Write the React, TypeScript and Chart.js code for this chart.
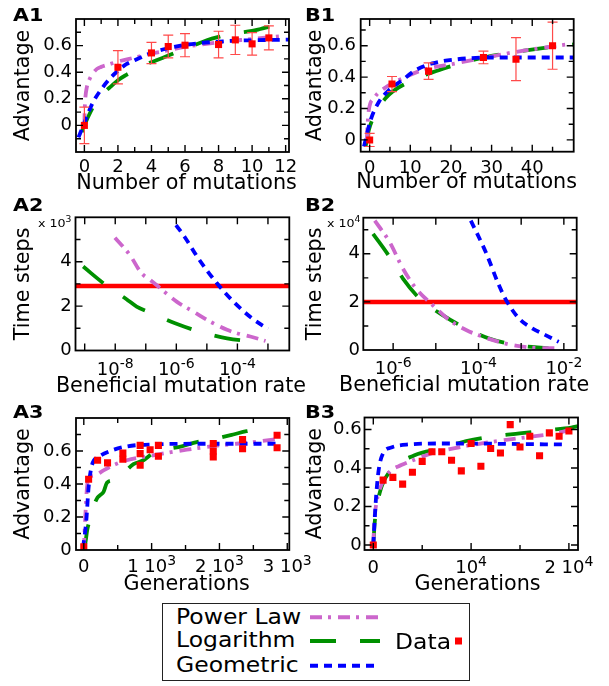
import React, { useEffect, useRef } from 'react';
import { Chart, registerables } from 'chart.js';

Chart.register(...registerables);

const FONT = 'DejaVu Sans';
const MAGENTA = '#cc66cc';
const GREEN = '#009000';
const BLUE = '#0000ff';
const RED = '#ff0000';
const DASH_POWER = [12, 6, 3, 7];
const DASH_LOG = [26, 24];
const DASH_GEO = [8, 6];

// ---------- A1 ----------
const a1Mutations = [0, 2, 4, 5, 6, 8, 9, 10, 11];
const a1Advantage = [0.0, 0.437, 0.545, 0.593, 0.603, 0.608, 0.643, 0.613, 0.658];
const a1Error = [0.137, 0.125, 0.08, 0.086, 0.087, 0.1, 0.11, 0.085, 0.09];
const a1GeoX = [-0.35, 0, 0.5, 1, 1.5, 2, 2.5, 3, 4, 5, 6, 7, 8, 9, 10, 12.2];
const a1GeoY = [-0.09, 0.02, 0.17, 0.27, 0.35, 0.41, 0.46, 0.49, 0.545, 0.58, 0.605, 0.62, 0.63, 0.637, 0.64, 0.645];
const a1PowX = [0, 0.02, 0.06, 0.15, 0.3, 0.5, 0.75, 1, 1.5, 2, 3, 4, 5, 6, 8, 10, 12];
const a1PowY = [0.0, 0.12, 0.21, 0.29, 0.345, 0.39, 0.425, 0.44, 0.46, 0.48, 0.51, 0.54, 0.565, 0.59, 0.625, 0.65, 0.675];
const a1LogX = [-0.15, 0, 0.4, 0.75, 1.2, 1.55, 2, 2.5, 2.94, 3.5, 4.3, 5, 5.7, 6.5, 7.3, 8, 8.9, 10, 10.5, 11.3, 12.1];
const a1LogY = [-0.05, 0.0, 0.11, 0.19, 0.25, 0.29, 0.34, 0.38, 0.41, 0.45, 0.49, 0.525, 0.56, 0.6, 0.64, 0.665, 0.69, 0.71, 0.725, 0.75, 0.77];

// ---------- B1 ----------
const b1Mutations = [0, 5.5, 14.5, 28, 36, 45];
const b1Advantage = [0.0, 0.356, 0.438, 0.525, 0.514, 0.6];
const b1Error = [0.042, 0.048, 0.053, 0.04, 0.137, 0.15];
const b1GeoX = [-1.4, 0.25, 2.3, 4.75, 8, 11.3, 15.4, 21.1, 29.3, 40, 50.2];
const b1GeoY = [-0.042, 0.127, 0.243, 0.317, 0.38, 0.444, 0.487, 0.512, 0.525, 0.525, 0.525];
const b1PowX = [-0.7, -0.5, -0.2, 1.05, 3.9, 8, 12.9, 21.1, 29.3, 37.5, 48.6];
const b1PowY = [0.0, 0.1, 0.19, 0.265, 0.334, 0.39, 0.444, 0.487, 0.529, 0.567, 0.608];
const b1LogX = [-1, -0.2, 0.65, 3.9, 9.7, 17, 25.2, 33.4, 41.6, 50.2];
const b1LogY = [-0.042, 0.063, 0.127, 0.265, 0.37, 0.444, 0.508, 0.55, 0.582, 0.608];

// ---------- A2 (log10 of beneficial mutation rate, time steps x 10^3) ----------
const a2GeoExp = [-6.01, -5.71, -5.28, -4.67, -4.13, -3.52, -3.0];
const a2GeoY = [5.65, 5.08, 4.15, 3.03, 2.2, 1.45, 0.97];
const a2PowExp = [-8.01, -7.52, -7.14, -6.86, -6.59, -5.99, -5.44, -4.89, -4.34, -4.02, -3.58, -3.08];
const a2PowY = [5.08, 4.3, 3.48, 3.18, 2.88, 2.2, 1.75, 1.3, 0.93, 0.78, 0.63, 0.43];
const a2LogExp = [-9.05, -8.31, -7.63, -7.3, -6.81, -6.04, -5.17, -4.34, -3.47];
const a2LogY = [3.78, 2.95, 2.31, 1.98, 1.68, 1.23, 0.82, 0.55, 0.4];
const a2DataLevel = 2.9;

// ---------- B2 (time steps x 10^4) ----------
const b2GeoExp = [-4.18, -3.83, -3.52, -3.33, -3.05, -2.74, -2.43, -2.12];
const b2GeoY = [5.38, 4.07, 2.69, 2.0, 1.31, 0.9, 0.62, 0.34];
const b2PowExp = [-6.43, -6.08, -5.77, -5.46, -5.07, -4.68, -4.29, -3.9, -3.52, -3.13, -2.74, -2.16];
const b2PowY = [5.38, 4.48, 3.38, 2.55, 1.86, 1.24, 0.83, 0.55, 0.34, 0.18, 0.1, 0.07];
const b2LogExp = [-6.47, -6.08, -5.77, -5.34, -4.84, -4.37, -3.75, -3.13, -2.36];
const b2LogY = [4.83, 3.86, 2.97, 2.07, 1.45, 0.97, 0.48, 0.21, 0.07];
const b2DataLevel = 2.0;

// ---------- A3 ----------
const a3Generations = [0, 71, 203, 350, 576, 576, 831, 831, 831, 978, 1100, 1100, 1909, 1909, 1909, 2341, 2341, 2850, 2850];
const a3Advantage = [0.02, 0.429, 0.544, 0.528, 0.588, 0.55, 0.634, 0.584, 0.514, 0.608, 0.634, 0.568, 0.645, 0.6, 0.564, 0.669, 0.614, 0.695, 0.62];
const a3GeoX = [-12, 37, 71, 120, 218, 390, 635, 1026, 1762, 2865];
const a3GeoY = [0.01, 0.18, 0.38, 0.514, 0.564, 0.6, 0.628, 0.64, 0.644, 0.644];
const a3PowX = [0, 22, 47, 71, 169, 291, 438, 635, 1026, 1518, 2007, 2497, 2890];
const a3PowY = [0.0, 0.2, 0.38, 0.433, 0.453, 0.483, 0.514, 0.544, 0.574, 0.608, 0.634, 0.654, 0.675];
const a3LogX = [0, 22, 50, 85, 140, 203, 250, 291, 341, 420, 488, 600, 732, 879, 1026, 1200, 1444, 1665, 1835, 2000, 2203, 2400, 2620];
const a3LogY = [0.0, 0.04, 0.12, 0.18, 0.26, 0.318, 0.335, 0.352, 0.407, 0.42, 0.423, 0.47, 0.52, 0.544, 0.588, 0.61, 0.628, 0.654, 0.665, 0.68, 0.7, 0.72, 0.731];

// ---------- B3 ----------
const b3Generations = [0, 1000, 2000, 3000, 4000, 5000, 6000, 7000, 8000, 9000, 10000, 11000, 12000, 13000, 14000, 15000, 16000, 17000, 18000, 19000, 20000];
const b3Advantage = [0.0, 0.337, 0.351, 0.316, 0.378, 0.434, 0.484, 0.484, 0.44, 0.385, 0.527, 0.409, 0.501, 0.478, 0.625, 0.509, 0.565, 0.463, 0.582, 0.565, 0.592];
const b3GeoX = [0, 140, 310, 550, 990, 1840, 3550, 6950, 19550];
const b3GeoY = [0.0, 0.13, 0.268, 0.389, 0.475, 0.506, 0.522, 0.527, 0.522];
const b3PowX = [0, 100, 310, 820, 1670, 2860, 4060, 5930, 8650, 12060, 15460, 18870, 20240];
const b3PowY = [0.0, 0.12, 0.216, 0.311, 0.38, 0.415, 0.44, 0.475, 0.506, 0.535, 0.558, 0.582, 0.6];
const b3LogX = [0, 150, 640, 1670, 4220, 6950, 9500, 12400, 14950, 17850, 20240, 20920];
const b3LogY = [0.0, 0.12, 0.268, 0.38, 0.466, 0.501, 0.54, 0.565, 0.579, 0.596, 0.61, 0.617];

// ---------- tick labels ([text, superscript]) ----------
const advTickVals = [0, 0.2, 0.4, 0.6];
const advTickLabels = ['0', '0.2', '0.4', '0.6'];
const a1XTicks = [0, 2, 4, 6, 8, 10, 12];
const a1XLabels = [['0', ''], ['2', ''], ['4', ''], ['6', ''], ['8', ''], ['10', ''], ['12', '']];
const b1XTicks = [0, 10, 20, 30, 40];
const b1XLabels = [['0', ''], ['10', ''], ['20', ''], ['30', ''], ['40', '']];
const a2XTicks = [1e-8, 1e-6, 1e-4];
const a2XLabels = [['10', '-8'], ['10', '-6'], ['10', '-4']];
const b2XTicks = [1e-6, 1e-4, 1e-2];
const b2XLabels = [['10', '-6'], ['10', '-4'], ['10', '-2']];
const stepTickVals = [0, 2, 4];
const stepTickLabels = ['0', '2', '4'];
const a3XTicks = [0, 1000, 2000, 3000];
const a3XLabels = [['0', ''], ['1 10', '3'], ['2 10', '3'], ['3 10', '3']];
const b3XTicks = [0, 10000, 20000];
const b3XLabels = [['0', ''], ['10', '4'], ['2 10', '4']];

const pts = (xs: number[], ys: number[]) => xs.map((x, i) => ({ x, y: ys[i] }));
const expPts = (es: number[], ys: number[]) => es.map((e, i) => ({ x: Math.pow(10, e), y: ys[i] }));

const curve = (data: any[], color: string, dash: number[], order: number) => ({
  data,
  showLine: true,
  borderColor: color,
  backgroundColor: color,
  borderWidth: 3.8,
  borderDash: dash,
  borderCapStyle: 'butt',
  pointRadius: 0,
  tension: 0.4,
  cubicInterpolationMode: 'monotone',
  fill: false,
  order,
});

const dataPts = (data: any[]) => ({
  data,
  showLine: false,
  pointStyle: 'rect',
  pointRadius: 5,
  pointBackgroundColor: RED,
  pointBorderColor: RED,
  pointBorderWidth: 0,
  order: 0,
});

const level = (xMin: number, xMax: number, v: number) => ({
  data: [{ x: xMin, y: v }, { x: xMax, y: v }],
  showLine: true,
  borderColor: RED,
  borderWidth: 4.5,
  pointRadius: 0,
  order: 4,
});

type Spec = {
  box: [number, number, number, number];
  area: { l: number; t: number; r: number; b: number };
  xType: string;
  xMin: number; xMax: number; yMin: number; yMax: number;
  xTicks: number[]; xLabels: string[][]; xLabelBase: number;
  yTicks: number[]; yLabels: string[];
  xMajor: number[]; xMinor: number[]; yMajor: number[]; yMinor: number[];
  xTitle: string; yTitle: string;
  xTitleX: number; xTitleBase: number;
  yTickPad: number; yTitlePad: number;
  datasets: any[];
  errors?: number[];
};

const A1: Spec = {
  box: [0, 0, 320, 200], area: { l: 76, t: 19, r: 289, b: 152 },
  xType: 'linear', xMin: -0.5, xMax: 12.2, yMin: -0.2, yMax: 0.8,
  xTicks: a1XTicks, xLabels: a1XLabels, xLabelBase: 171.7, yTicks: advTickVals, yLabels: advTickLabels,
  xMajor: [0, 2, 4, 6, 8, 10, 12], xMinor: [1, 3, 5, 7, 9, 11], yMajor: [0, 0.2, 0.4, 0.6], yMinor: [-0.1, 0.1, 0.3, 0.5, 0.7],
  xTitle: 'Number of mutations', yTitle: 'Advantage',
  xTitleX: 186.5, xTitleBase: 189.5,
  yTickPad: 4, yTitlePad: 11.6,
  datasets: [
    dataPts(pts(a1Mutations, a1Advantage)),
    curve(pts(a1GeoX, a1GeoY), BLUE, DASH_GEO, 1),
    curve(pts(a1PowX, a1PowY), MAGENTA, DASH_POWER, 2),
    curve(pts(a1LogX, a1LogY), GREEN, DASH_LOG, 3),
  ],
  errors: a1Error,
};

const B1: Spec = {
  box: [300, 0, 309, 200], area: { l: 360.7, t: 19, r: 573.7, b: 151.7 },
  xType: 'linear', xMin: -2.2, xMax: 50.2, yMin: -0.075, yMax: 0.77,
  xTicks: b1XTicks, xLabels: b1XLabels, xLabelBase: 172.5, yTicks: advTickVals, yLabels: advTickLabels,
  xMajor: [0, 10, 20, 30, 40], xMinor: [5, 15, 25, 35, 45], yMajor: [0, 0.2, 0.4, 0.6], yMinor: [0.1, 0.3, 0.5, 0.7],
  xTitle: 'Number of mutations', yTitle: 'Advantage',
  xTitleX: 466.7, xTitleBase: 188.8,
  yTickPad: 4.7, yTitlePad: 3.6,
  datasets: [
    dataPts(pts(b1Mutations, b1Advantage)),
    curve(pts(b1GeoX, b1GeoY), BLUE, DASH_GEO, 1),
    curve(pts(b1PowX, b1PowY), MAGENTA, DASH_POWER, 2),
    curve(pts(b1LogX, b1LogY), GREEN, DASH_LOG, 3),
  ],
  errors: b1Error,
};

const A2: Spec = {
  box: [0, 200, 320, 200], area: { l: 75.5, t: 217.3, r: 289.3, b: 350.5 },
  xType: 'logarithmic', xMin: 5e-10, xMax: 5e-3, yMin: 0, yMax: 6,
  xTicks: a2XTicks, xLabels: a2XLabels, xLabelBase: 375, yTicks: stepTickVals, yLabels: stepTickLabels,
  xMajor: [1e-9, 1e-8, 1e-7, 1e-6, 1e-5, 1e-4, 1e-3], xMinor: [], yMajor: [2, 4], yMinor: [1, 3, 5],
  xTitle: 'Beneficial mutation rate', yTitle: 'Time steps',
  xTitleX: 181, xTitleBase: 392.5,
  yTickPad: 3.8, yTitlePad: 11.6,
  datasets: [
    level(5e-10, 5e-3, a2DataLevel),
    curve(expPts(a2GeoExp, a2GeoY), BLUE, DASH_GEO, 1),
    curve(expPts(a2PowExp, a2PowY), MAGENTA, DASH_POWER, 2),
    curve(expPts(a2LogExp, a2LogY), GREEN, DASH_LOG, 3),
  ],
};

const B2: Spec = {
  box: [300, 200, 309, 200], area: { l: 363.3, t: 217.7, r: 576.7, b: 350 },
  xType: 'logarithmic', xMin: 2e-7, xMax: 2e-2, yMin: 0, yMax: 5.5,
  xTicks: b2XTicks, xLabels: b2XLabels, xLabelBase: 373.5, yTicks: stepTickVals, yLabels: stepTickLabels,
  xMajor: [1e-6, 1e-5, 1e-4, 1e-3, 1e-2], xMinor: [], yMajor: [2, 4], yMinor: [1, 3, 5],
  xTitle: 'Beneficial mutation rate', yTitle: 'Time steps',
  xTitleX: 464.2, xTitleBase: 392,
  yTickPad: 3.3, yTitlePad: 3.6,
  datasets: [
    level(2e-7, 2e-2, b2DataLevel),
    curve(expPts(b2GeoExp, b2GeoY), BLUE, DASH_GEO, 1),
    curve(expPts(b2PowExp, b2PowY), MAGENTA, DASH_POWER, 2),
    curve(expPts(b2LogExp, b2LogY), GREEN, DASH_LOG, 3),
  ],
};

const A3: Spec = {
  box: [0, 400, 320, 200], area: { l: 76, t: 418, r: 289.3, b: 550 },
  xType: 'linear', xMin: -115, xMax: 3030, yMin: 0, yMax: 0.8,
  xTicks: a3XTicks, xLabels: a3XLabels, xLabelBase: 571.7, yTicks: advTickVals, yLabels: advTickLabels,
  xMajor: [0, 1000, 2000, 3000], xMinor: [500, 1500, 2500], yMajor: [0.2, 0.4, 0.6], yMinor: [0.1, 0.3, 0.5, 0.7],
  xTitle: 'Generations', yTitle: 'Advantage',
  xTitleX: 186.7, xTitleBase: 591,
  yTickPad: 4.3, yTitlePad: 11.6,
  datasets: [
    dataPts(pts(a3Generations, a3Advantage)),
    curve(pts(a3GeoX, a3GeoY), BLUE, DASH_GEO, 1),
    curve(pts(a3PowX, a3PowY), MAGENTA, DASH_POWER, 2),
    curve(pts(a3LogX, a3LogY), GREEN, DASH_LOG, 3),
  ],
};

const B3: Spec = {
  box: [300, 400, 309, 200], area: { l: 364.5, t: 417.5, r: 578, b: 550 },
  xType: 'linear', xMin: -900, xMax: 20930, yMin: -0.026, yMax: 0.662,
  xTicks: b3XTicks, xLabels: b3XLabels, xLabelBase: 573, yTicks: advTickVals, yLabels: advTickLabels,
  xMajor: [0, 10000, 20000], xMinor: [5000, 15000], yMajor: [0, 0.2, 0.4, 0.6], yMinor: [0.1, 0.3, 0.5],
  xTitle: 'Generations', yTitle: 'Advantage',
  xTitleX: 477.5, xTitleBase: 591,
  yTickPad: 2.8, yTitlePad: 3.6,
  datasets: [
    dataPts(pts(b3Generations, b3Advantage)),
    curve(pts(b3GeoX, b3GeoY), BLUE, DASH_GEO, 1),
    curve(pts(b3PowX, b3PowY), MAGENTA, DASH_POWER, 2),
    curve(pts(b3LogX, b3LogY), GREEN, DASH_LOG, 3),
  ],
};

const PANELS = [A1, B1, A2, B2, A3, B3];

function framePlugin(spec: Spec) {
  return {
    id: 'frame',
    beforeDatasetDraw(chart: any, args: any) {
      if (!spec.errors || args.index !== 0) return;
      const { ctx } = chart;
      const xs = chart.scales.x;
      const ys = chart.scales.y;
      const ds = chart.data.datasets[0].data;
      ctx.save();
      ctx.strokeStyle = '#ff4a4a';
      ctx.lineWidth = 1.2;
      ctx.beginPath();
      ds.forEach((p: any, i: number) => {
        const e = spec.errors![i];
        const px = xs.getPixelForValue(p.x);
        const y1 = ys.getPixelForValue(p.y + e);
        const y2 = ys.getPixelForValue(p.y - e);
        ctx.moveTo(px, y1); ctx.lineTo(px, y2);
        ctx.moveTo(px - 5, y1); ctx.lineTo(px + 5, y1);
        ctx.moveTo(px - 5, y2); ctx.lineTo(px + 5, y2);
      });
      ctx.stroke();
      ctx.restore();
    },
    afterDraw(chart: any) {
      const { ctx, chartArea: a } = chart;
      const xs = chart.scales.x;
      const ys = chart.scales.y;
      ctx.save();
      // inward tick marks on all four sides
      ctx.strokeStyle = '#000';
      ctx.lineWidth = 1.4;
      ctx.beginPath();
      const tx = (vals: number[], len: number) => vals.forEach((v) => {
        const p = xs.getPixelForValue(v);
        ctx.moveTo(p, a.bottom); ctx.lineTo(p, a.bottom - len);
        ctx.moveTo(p, a.top); ctx.lineTo(p, a.top + len);
      });
      const ty = (vals: number[], len: number) => vals.forEach((v) => {
        const p = ys.getPixelForValue(v);
        ctx.moveTo(a.left, p); ctx.lineTo(a.left + len, p);
        ctx.moveTo(a.right, p); ctx.lineTo(a.right - len, p);
      });
      tx(spec.xMajor, 7); tx(spec.xMinor, 5);
      ty(spec.yMajor, 7); ty(spec.yMinor, 5);
      ctx.stroke();
      ctx.lineWidth = 1.8;
      ctx.strokeRect(a.left, a.top, a.right - a.left, a.bottom - a.top);
      // x tick labels with superscript exponents
      const baseY = spec.xLabelBase - spec.box[1];
      const mainFont = `18px "${FONT}"`;
      const supFont = `14px "${FONT}"`;
      ctx.fillStyle = '#000';
      ctx.textBaseline = 'alphabetic';
      ctx.textAlign = 'left';
      spec.xLabels.forEach(([main, sup], i) => {
        ctx.font = mainFont;
        const wm = ctx.measureText(main).width;
        ctx.font = supFont;
        const ws = sup ? ctx.measureText(sup).width : 0;
        const p = xs.getPixelForValue(spec.xTicks[i]);
        const x0 = p - (wm + ws) / 2;
        ctx.font = mainFont;
        ctx.fillText(main, x0, baseY);
        if (sup) {
          ctx.font = supFont;
          ctx.fillText(sup, x0 + wm, baseY - 6.7);
        }
      });
      ctx.restore();
    },
  };
}

function buildConfig(spec: Spec): any {
  const [cx, cy, cw, ch] = spec.box;
  const tickFont = { family: FONT, size: 18 };
  const titleFont = { family: FONT, size: 20.7 };
  return {
    type: 'scatter',
    data: { datasets: spec.datasets },
    options: {
      responsive: false,
      animation: false,
      events: [],
      layout: { padding: { left: 0, top: spec.area.t - cy, right: cx + cw - spec.area.r, bottom: 0 } },
      plugins: { legend: { display: false }, tooltip: { enabled: false } },
      scales: {
        x: {
          type: spec.xType,
          min: spec.xMin,
          max: spec.xMax,
          bounds: 'data',
          grid: { display: false, drawTicks: false },
          border: { display: false },
          afterBuildTicks: (s: any) => { s.ticks = spec.xTicks.map((v) => ({ value: v })); },
          afterFit: (s: any) => { s.height = cy + ch - spec.area.b; },
          ticks: { display: false, autoSkip: false, maxRotation: 0, minRotation: 0 },
          title: { display: false },
        },
        y: {
          type: 'linear',
          min: spec.yMin,
          max: spec.yMax,
          bounds: 'data',
          grid: { display: false, drawTicks: false },
          border: { display: false },
          afterBuildTicks: (s: any) => { s.ticks = spec.yTicks.map((v) => ({ value: v })); },
          afterFit: (s: any) => { s.width = spec.area.l - cx; },
          ticks: {
            autoSkip: false,
            padding: spec.yTickPad, font: tickFont, color: '#000',
            callback: (_v: any, i: number) => spec.yLabels[i],
          },
          title: { display: true, text: spec.yTitle, font: titleFont, color: '#000', padding: { top: spec.yTitlePad, bottom: 0 } },
        },
      },
    },
    plugins: [framePlugin(spec)],
  };
}

function Panel({ spec }: { spec: Spec }) {
  const ref = useRef<HTMLCanvasElement>(null);
  useEffect(() => {
    const chart = new Chart(ref.current as HTMLCanvasElement, buildConfig(spec));
    return () => chart.destroy();
  }, [spec]);
  const [x, y, w, h] = spec.box;
  return (
    <canvas
      ref={ref}
      width={w}
      height={h}
      style={{ position: 'absolute', left: x, top: y, width: w, height: h }}
    />
  );
}

function Txt(props: { x: number; base: number; size: number; bold?: boolean; sx?: number; center?: boolean; children: any }) {
  const { x, base, size, bold, sx, center, children } = props;
  const tf: string[] = [];
  if (center) tf.push('translateX(-50%)');
  if (sx) tf.push(`scaleX(${sx})`);
  return (
    <div
      style={{
        position: 'absolute',
        left: x,
        top: base - 0.846 * size,
        fontFamily: FONT,
        fontSize: size,
        lineHeight: `${size}px`,
        fontWeight: bold ? 'bold' : 'normal',
        whiteSpace: 'nowrap',
        color: '#000',
        transform: tf.length ? tf.join(' ') : undefined,
        transformOrigin: center ? 'center center' : 'left center',
      }}
    >
      {children}
    </div>
  );
}

const panelLabels = [
  { t: 'A1', x: 12.7, base: 21.7 },
  { t: 'B1', x: 305, base: 21.7 },
  { t: 'A2', x: 13.3, base: 211.7 },
  { t: 'B2', x: 305, base: 211.7 },
  { t: 'A3', x: 13.3, base: 418.3 },
  { t: 'B3', x: 305, base: 418.3 },
];

const scaleLabels = [
  { x: 38.3, base: 227, exp: '3' },
  { x: 326.7, base: 227, exp: '4' },
];

const legendEntries = [
  { name: 'Power Law', color: MAGENTA, dash: DASH_POWER, base: 624, lineY: 617.3 },
  { name: 'Logarithm', color: GREEN, dash: DASH_LOG, base: 647.5, lineY: 641 },
  { name: 'Geometric', color: BLUE, dash: DASH_GEO, base: 672, lineY: 665.7 },
];

export default function App() {
  return (
    <div style={{ position: 'absolute', left: 0, top: 0, width: 609, height: 686, background: '#fff', overflow: 'hidden' }}>
      {PANELS.map((p, i) => <Panel key={i} spec={p} />)}
      {PANELS.map((p, i) => (
        <Txt key={'xt' + i} x={p.xTitleX} base={p.xTitleBase} size={20.7} center>{p.xTitle}</Txt>
      ))}
      {panelLabels.map((l) => (
        <Txt key={l.t} x={l.x} base={l.base} size={18} bold sx={1.15}>{l.t}</Txt>
      ))}
      {scaleLabels.map((l, i) => (
        <Txt key={i} x={l.x} base={l.base} size={11} sx={1.15}>
          x 10<span style={{ fontSize: 8, position: 'relative', top: -5 }}>{l.exp}</span>
        </Txt>
      ))}
      <div style={{ position: 'absolute', left: 162, top: 603, width: 308, height: 78, border: '1.5px solid #222', boxSizing: 'border-box' }} />
      {legendEntries.map((e) => (
        <Txt key={e.name} x={176} base={e.base} size={20.5} sx={1.145}>{e.name}</Txt>
      ))}
      <svg width={609} height={686} style={{ position: 'absolute', left: 0, top: 0, pointerEvents: 'none' }}>
        {legendEntries.map((e) => (
          <line key={e.name} x1={310} x2={380} y1={e.lineY} y2={e.lineY} stroke={e.color} strokeWidth={4} strokeDasharray={e.dash.join(' ')} />
        ))}
        <rect x={455} y={637.5} width={7} height={7} fill={RED} />
      </svg>
      <Txt x={395} base={649} size={20.5} sx={1.145}>Data</Txt>
    </div>
  );
}
